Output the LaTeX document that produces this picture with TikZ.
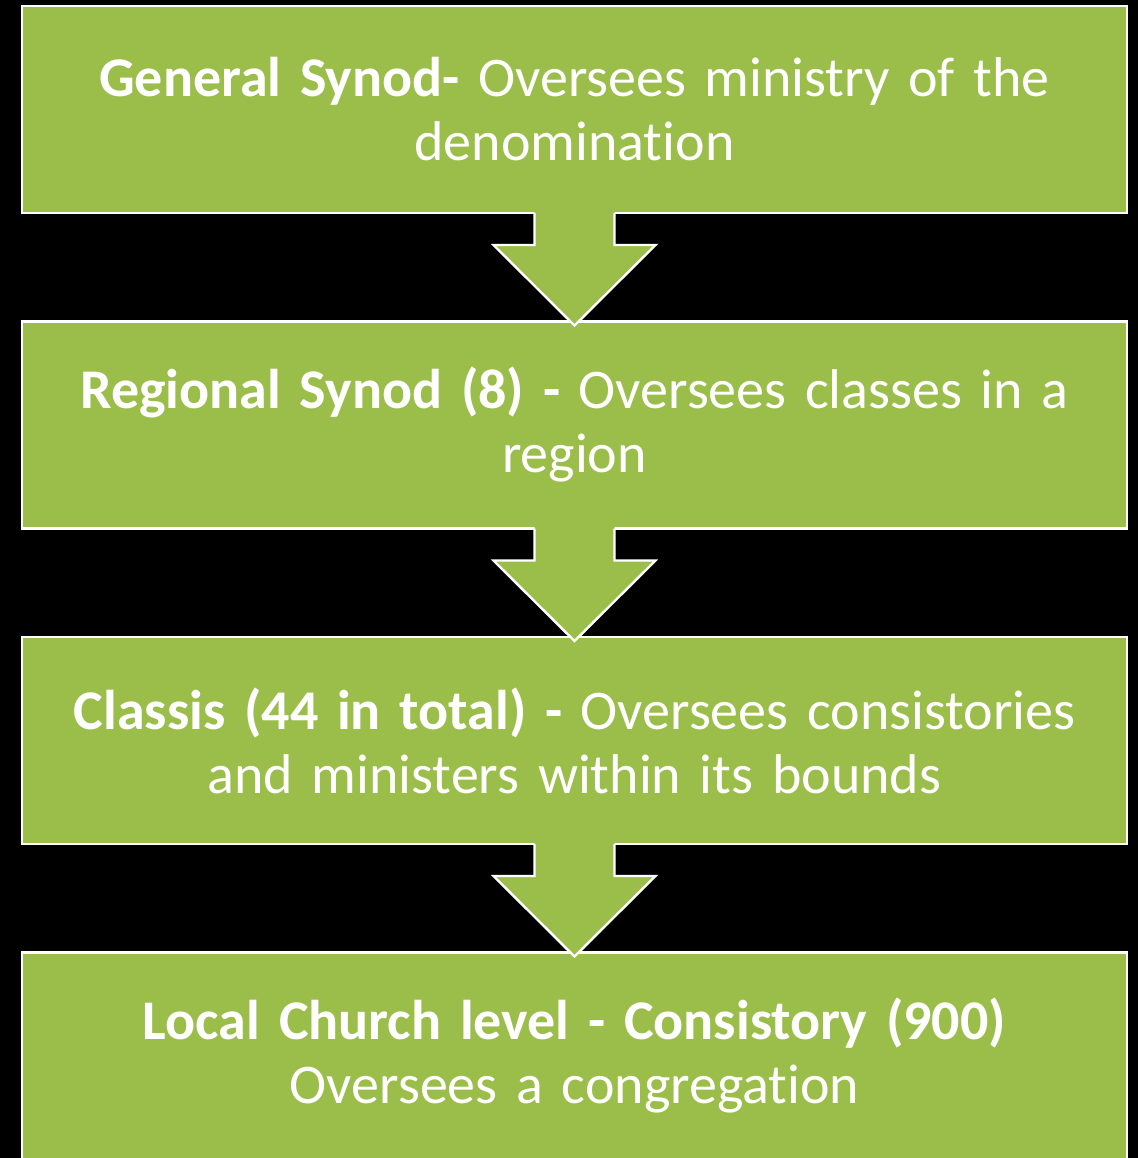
\documentclass[tikz,border=0pt]{standalone}
\usepackage{fontspec}
\setmainfont{Carlito}[Ligatures=NoCommon]
\usetikzlibrary{positioning,calc}
\definecolor{leaf}{RGB}{155,190,75}

\begin{document}
\begin{tikzpicture}[
        x=0.5pt,y=-0.5pt,
        node distance=54.25pt,
        levelbox/.style={
            draw=white,line width=1.2pt,fill=leaf,outer sep=0pt,
            minimum width=552.5pt,minimum height=103.5pt,
            text width=540pt,align=center,text=white,
            font=\fontsize{28}{32}\selectfont
        },
        arrowline/.style={draw=white,line width=1.2pt,line join=miter}
    ]
    \fill[black] (0,0) rectangle (1138,1158);
    \useasboundingbox (0,0) rectangle (1138,1158);
    \node[levelbox] (gen) at (574.5,109.5)
        {\textbf{General Synod-} Oversees ministry of the\\denomination};
    \node[levelbox,below=of gen] (reg)
        {\textbf{Regional Synod (8) -} Oversees classes in a\\region};
    \node[levelbox,below=of reg] (cls)
        {\textbf{Classis (44 in total) -} Oversees consistories\\and ministers within its bounds};
    \node[levelbox,below=of cls] (loc)
        {\textbf{Local Church level - Consistory (900)}\\Oversees a congregation};
    \foreach \a/\b in {gen/reg,reg/cls,cls/loc}{
        \fill[leaf] ($(\a.south)+(-20pt,1.5pt)$)
            -- ($(\a.south)+(-20pt,-16pt)$)
            -- ($(\a.south)+(-40.5pt,-16pt)$)
            -- ($(\b.north)+(0,-2pt)$)
            -- ($(\a.south)+(40.5pt,-16pt)$)
            -- ($(\a.south)+(20pt,-16pt)$)
            -- ($(\a.south)+(20pt,1.5pt)$)
            -- cycle;
        \draw[arrowline] ($(\a.south)+(-20pt,0)$)
            -- ($(\a.south)+(-20pt,-16pt)$)
            -- ($(\a.south)+(-40.5pt,-16pt)$)
            -- ($(\b.north)+(0,-2pt)$)
            -- ($(\a.south)+(40.5pt,-16pt)$)
            -- ($(\a.south)+(20pt,-16pt)$)
            -- ($(\a.south)+(20pt,0)$);
    }
\end{tikzpicture}
\end{document}
